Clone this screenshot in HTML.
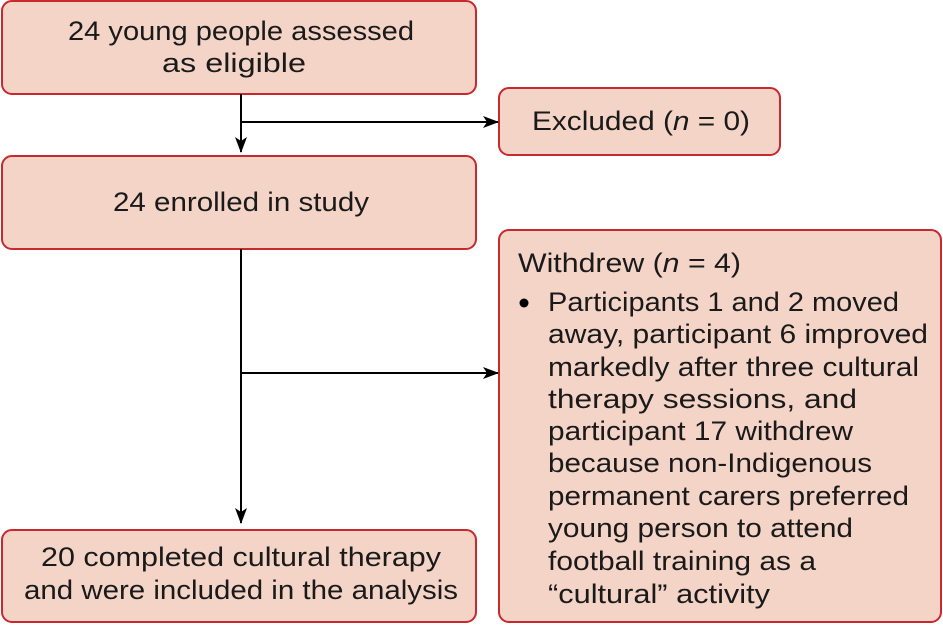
<!DOCTYPE html>
<html><head><style>html,body{margin:0;padding:0;background:#fff}</style></head><body>
<svg width="943" height="636" viewBox="0 0 943 636" xmlns="http://www.w3.org/2000/svg" font-family="Liberation Sans, sans-serif" font-size="27" fill="#1a1a1a">
<defs><marker id="a" markerWidth="16" markerHeight="12" refX="15" refY="6" orient="auto" markerUnits="userSpaceOnUse"><path d="M0,0 L16,6 L0,12 L4,6 Z" fill="#000"/></marker></defs>
<g fill="#f3d4c7" stroke="#c8282e" stroke-width="2">
<rect x="2" y="1" width="474" height="93" rx="10"/>
<rect x="499" y="88" width="281" height="67" rx="10"/>
<rect x="2" y="156" width="474" height="93" rx="10"/>
<rect x="499" y="230" width="442" height="392" rx="10"/>
<rect x="2" y="530" width="474" height="92" rx="10"/>
</g>
<g stroke="#000" stroke-width="2" fill="none">
<line x1="241" y1="94" x2="241" y2="152" marker-end="url(#a)"/>
<line x1="241" y1="122" x2="498" y2="122" marker-end="url(#a)"/>
<line x1="241" y1="249" x2="241" y2="523" marker-end="url(#a)"/>
<line x1="241" y1="373" x2="498" y2="373" marker-end="url(#a)"/>
</g>
<text x="68" y="40" textLength="346" lengthAdjust="spacingAndGlyphs">24 young people assessed</text>
<text x="162" y="72" textLength="144" lengthAdjust="spacingAndGlyphs">as eligible</text>
<text x="532" y="130" textLength="218" lengthAdjust="spacingAndGlyphs">Excluded (<tspan font-style="italic">n</tspan> = 0)</text>
<text x="113" y="211" textLength="256" lengthAdjust="spacingAndGlyphs">24 enrolled in study</text>
<text x="41" y="566" textLength="400" lengthAdjust="spacingAndGlyphs">20 completed cultural therapy</text>
<text x="24" y="599" textLength="434" lengthAdjust="spacingAndGlyphs">and were included in the analysis</text>
<text x="518" y="272" textLength="223" lengthAdjust="spacingAndGlyphs">Withdrew (<tspan font-style="italic">n</tspan> = 4)</text>
<circle cx="524" cy="303" r="4.5" fill="#000"/>
<text x="548" y="311" textLength="351" lengthAdjust="spacingAndGlyphs">Participants 1 and 2 moved</text>
<text x="548" y="343" textLength="380" lengthAdjust="spacingAndGlyphs">away, participant 6 improved</text>
<text x="548" y="376" textLength="371" lengthAdjust="spacingAndGlyphs">markedly after three cultural</text>
<text x="548" y="408" textLength="309" lengthAdjust="spacingAndGlyphs">therapy sessions, and</text>
<text x="548" y="440" textLength="305" lengthAdjust="spacingAndGlyphs">participant 17 withdrew</text>
<text x="548" y="472" textLength="324" lengthAdjust="spacingAndGlyphs">because non-Indigenous</text>
<text x="548" y="505" textLength="361" lengthAdjust="spacingAndGlyphs">permanent carers preferred</text>
<text x="548" y="537" textLength="305" lengthAdjust="spacingAndGlyphs">young person to attend</text>
<text x="548" y="570" textLength="268" lengthAdjust="spacingAndGlyphs">football training as a</text>
<text x="548" y="603" textLength="222" lengthAdjust="spacingAndGlyphs">“cultural” activity</text>
</svg>
</body></html>
